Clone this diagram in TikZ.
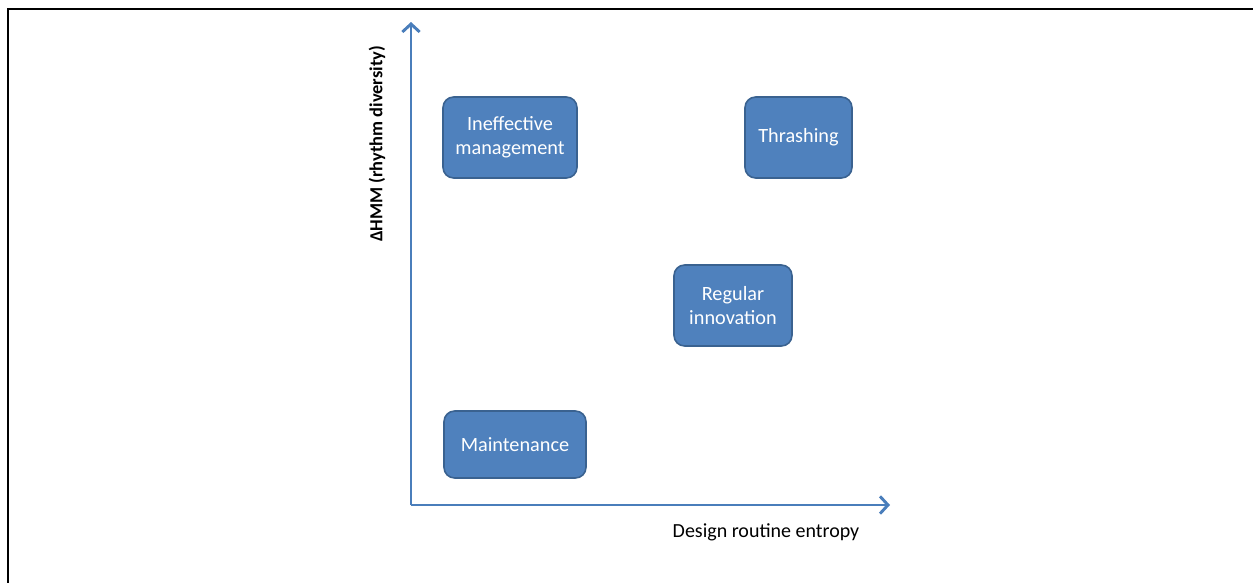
\documentclass[tikz,border=0pt]{standalone}
\usepackage{fontspec}
\setmainfont{Carlito}
\usetikzlibrary{arrows.meta}
\definecolor{boxfill}{HTML}{4F81BD}
\definecolor{boxline}{HTML}{3A6290}
\definecolor{axiscol}{HTML}{4A7EBB}
\begin{document}
\begin{tikzpicture}[x=0.75pt,y=-0.75pt,
  quad/.style={draw=boxline, line width=1.2pt, fill=boxfill, rounded corners=8pt,
    text=white, font=\fontsize{15.2pt}{18pt}\selectfont, align=center, inner sep=0pt},
  axis/.style={draw=axiscol, line width=2.2pt, -{Straight Barb[length=6pt,width=13pt,line width=2.2pt]}}]
\useasboundingbox (0,0) rectangle (1253,582);
\draw[line width=1.6pt, line cap=rect] (8,582) -- (8,9) -- (1252,9);
\coordinate (o) at (411,505);
\coordinate (ytip) at (411,22);
\coordinate (xtip) at (890,505);
\draw[axis] (o) -- (ytip);
\draw[axis] (o) -- (xtip);
\node[quad, minimum width=100.5pt, minimum height=60.75pt] (ineff) at (510,137.5) {Ineffective\\management};
\node[quad, minimum width=80.25pt, minimum height=60.75pt] (thrash) at (798.5,137.5) {Thrashing};
\node[quad, minimum width=88.5pt, minimum height=60.75pt] (reg) at (733,305.5) {Regular\\innovation};
\node[quad, minimum width=106.5pt, minimum height=50.25pt] (maint) at (515,444.5) {Maintenance};
\node[rotate=90, font=\bfseries\fontsize{13.8pt}{16pt}\selectfont] (ylab) at (377,144) {ΔHMM (rhythm diversity)};
\node[font=\fontsize{15pt}{18pt}\selectfont] (xlab) at (766,532) {Design routine entropy};
\end{tikzpicture}
\end{document}
